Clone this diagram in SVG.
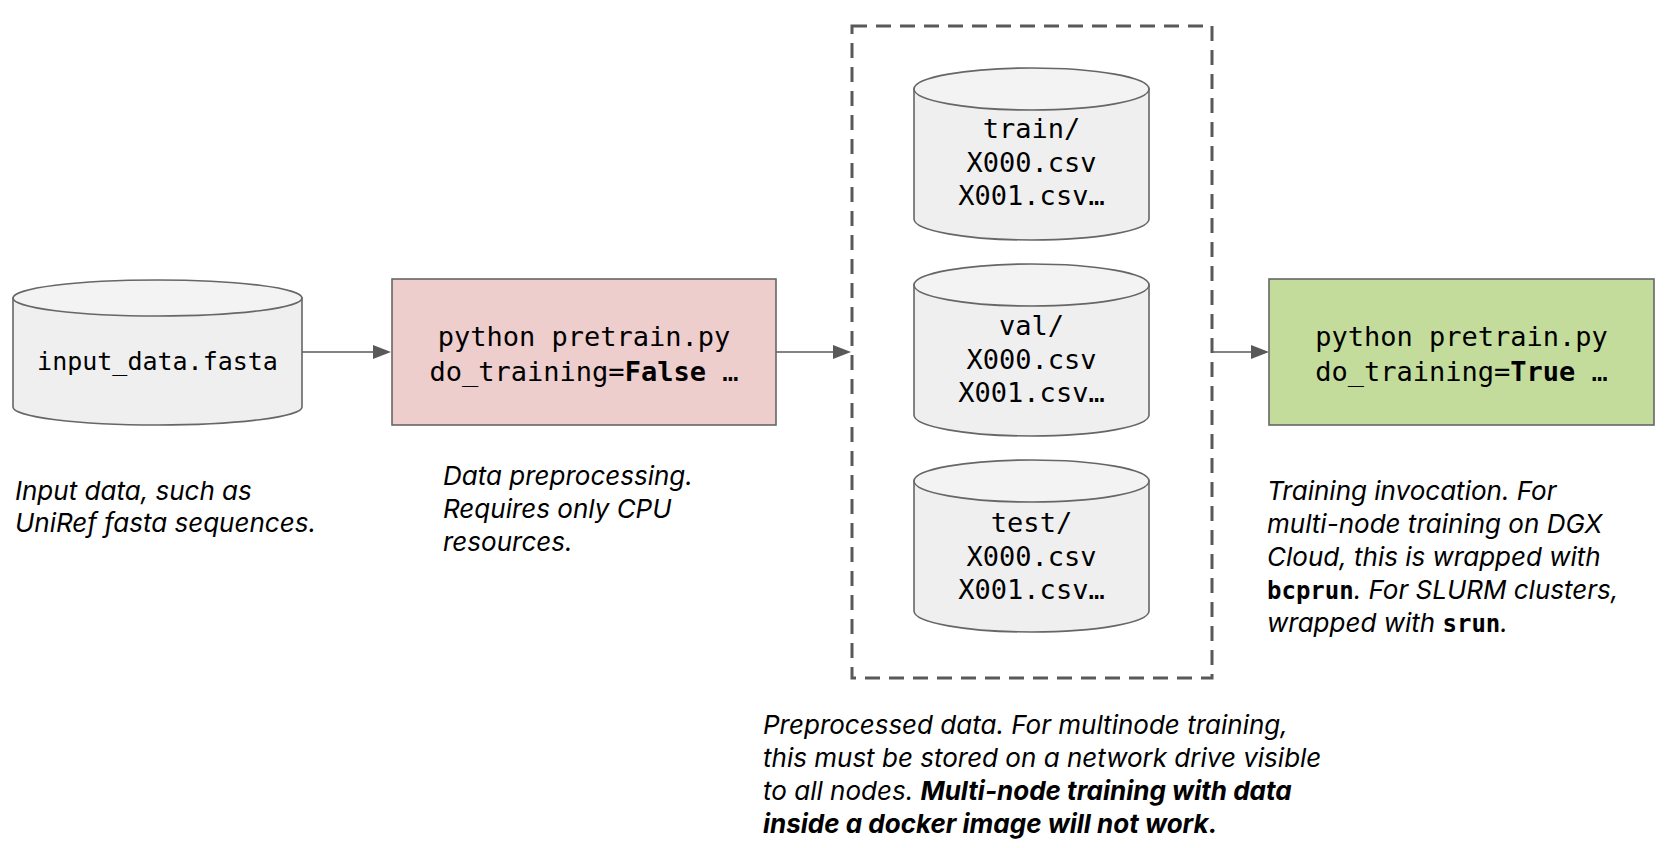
<svg xmlns="http://www.w3.org/2000/svg" width="1668" height="848" viewBox="0 0 1668 848">
<style>
.cyl{fill:#efefef;stroke:#666;stroke-width:1.6}
.cap{fill:#f3f3f3;stroke:#666;stroke-width:1.6}
.mono{font-family:"DejaVu Sans Mono","Liberation Mono",monospace;font-size:27px;fill:#000;text-anchor:middle}
.b{font-weight:bold}
.note{font-family:Inter,"Noto Sans",sans-serif;font-style:italic;font-size:26px;fill:#000}
.nb{font-weight:bold}
.code{font-family:"DejaVu Sans Mono","Liberation Mono",monospace;font-style:normal;font-weight:bold;font-size:24px}
.line{stroke:#595959;stroke-width:1.6;fill:none}
.head{fill:#595959}
</style>
<rect width="1668" height="848" fill="#fff"/>
<g id="connectors">
<line class="line" x1="302" y1="352" x2="376" y2="352"/>
<path class="head" d="M373,345 L391,352 L373,359 Z"/>
<line class="line" x1="776" y1="352" x2="836" y2="352"/>
<path class="head" d="M833,345 L851,352 L833,359 Z"/>
<line class="line" x1="1212" y1="352" x2="1254" y2="352"/>
<path class="head" d="M1251,345 L1269,352 L1251,359 Z"/>
</g>
<g id="input">
<path class="cyl" d="M13,298 L13,407 A144.5,18 0 0 0 302,407 L302,298 Z"/>
<ellipse class="cap" cx="157.5" cy="298" rx="144.5" ry="18"/>
<text class="mono" x="157.5" y="370" style="font-size:25px">input_data.fasta</text>
</g>
<g id="preprocess">
<rect x="392" y="279" width="384" height="146" fill="#eecdcd" stroke="#666" stroke-width="1.6"/>
<text class="mono" x="584" y="346">python pretrain.py</text>
<text class="mono" x="584" y="381">do_training=<tspan class="b">False</tspan> …</text>
</g>
<g id="data">
<rect x="852" y="26" width="360" height="652" fill="none" stroke="#595959" stroke-width="3" stroke-dasharray="15,9"/>
</g>
<g id="train">
<path class="cyl" d="M914,89 L914,219 A117.5,21 0 0 0 1149,219 L1149,89 Z"/>
<ellipse class="cap" cx="1031.5" cy="89" rx="117.5" ry="21"/>
<text class="mono" x="1031.5" y="138">train/</text>
<text class="mono" x="1031.5" y="172">X000.csv</text>
<text class="mono" x="1031.5" y="205">X001.csv…</text>
</g>
<g id="val">
<path class="cyl" d="M914,285 L914,415 A117.5,21 0 0 0 1149,415 L1149,285 Z"/>
<ellipse class="cap" cx="1031.5" cy="285" rx="117.5" ry="21"/>
<text class="mono" x="1031.5" y="335">val/</text>
<text class="mono" x="1031.5" y="369">X000.csv</text>
<text class="mono" x="1031.5" y="402">X001.csv…</text>
</g>
<g id="test">
<path class="cyl" d="M914,481 L914,611 A117.5,21 0 0 0 1149,611 L1149,481 Z"/>
<ellipse class="cap" cx="1031.5" cy="481" rx="117.5" ry="21"/>
<text class="mono" x="1031.5" y="532">test/</text>
<text class="mono" x="1031.5" y="566">X000.csv</text>
<text class="mono" x="1031.5" y="599">X001.csv…</text>
</g>
<g id="train-step">
<rect x="1269" y="279" width="385" height="146" fill="#c3dc9c" stroke="#666" stroke-width="1.6"/>
<text class="mono" x="1461.5" y="346">python pretrain.py</text>
<text class="mono" x="1461.5" y="381">do_training=<tspan class="b">True</tspan> …</text>
</g>
<g id="notes">
<text class="note" x="15" y="500">Input data, such as</text>
<text class="note" x="15" y="532">UniRef fasta sequences.</text>
<text class="note" x="443" y="485">Data preprocessing.</text>
<text class="note" x="443" y="518">Requires only CPU</text>
<text class="note" x="443" y="551">resources.</text>
<text class="note" x="1267" y="500">Training invocation. For</text>
<text class="note" x="1267" y="533">multi-node training on DGX</text>
<text class="note" x="1267" y="566">Cloud, this is wrapped with</text>
<text class="note" x="1267" y="599"><tspan class="code">bcprun</tspan>. For SLURM clusters,</text>
<text class="note" x="1267" y="632">wrapped with <tspan class="code">srun</tspan>.</text>
<text class="note" x="763" y="734">Preprocessed data. For multinode training,</text>
<text class="note" x="763" y="767">this must be stored on a network drive visible</text>
<text class="note" x="763" y="800">to all nodes. <tspan class="nb">Multi-node training with data</tspan></text>
<text class="note nb" x="763" y="833">inside a docker image will not work.</text>
</g>
</svg>
